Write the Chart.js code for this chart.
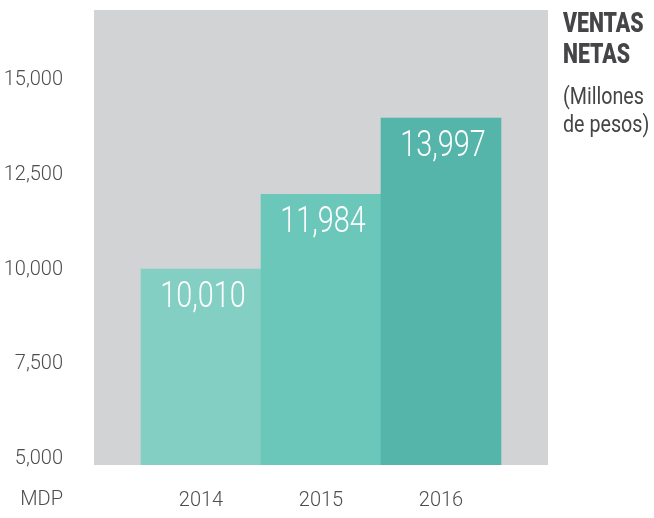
<!DOCTYPE html>
<html>
<head>
<meta charset="utf-8">
<script src="https://cdn.jsdelivr.net/npm/chart.js@4"></script>
<style>
  html, body { margin: 0; padding: 0; background: #fff; }
  #wrap { width: 654px; height: 518px; }
</style>
</head>
<body>
<div id="wrap"><canvas id="myChart" width="654" height="518"></canvas></div>
<script>
const years = [2014, 2015, 2016];
const ventas = [10010, 11984, 13997];
const yTicks = [5000, 7500, 10000, 12500, 15000];
const barColors = ["#84cfc4", "#6cc7bb", "#55b5aa"];
const titleLines = ["VENTAS", "NETAS"];
const subLines = ["(Millones", "de pesos)"];

const grey = "#4d4d4f";
const tickFont = { family: "Roboto", size: 20, weight: 300 };

// text squeezed horizontally to mimic the condensed face of the original
function squeezed(ctx, text, x, y, sx, align) {
  ctx.save();
  ctx.translate(x, y);
  ctx.scale(sx, 1);
  ctx.textAlign = align;
  ctx.fillText(text, 0, 0);
  ctx.restore();
}

// grey panel behind the bars
const panel = {
  id: "panel",
  beforeDraw(chart) {
    const { ctx, chartArea: a } = chart;
    ctx.save();
    ctx.fillStyle = "#d2d3d5";
    ctx.fillRect(a.left, a.top - 2, a.right - a.left, a.bottom - a.top + 2);
    ctx.restore();
  },
};

// white values inside bars, MDP, and the side title
const extras = {
  id: "extras",
  afterDatasetsDraw(chart) {
    const { ctx, chartArea: a } = chart;
    ctx.save();
    ctx.fillStyle = "#fff";
    ctx.font = "300 36px Roboto";
    ctx.textBaseline = "middle";
    chart.getDatasetMeta(0).data.forEach((bar, i) => {
      squeezed(ctx, ventas[i].toLocaleString("en-US"), bar.x + 2, bar.y + 29, 0.8, "center");
    });

    ctx.fillStyle = grey;
    ctx.font = "300 20px Roboto";
    ctx.textAlign = "right";
    ctx.fillText("MDP", 63, 500);

    ctx.textBaseline = "alphabetic";
    ctx.fillStyle = "#454547";
    ctx.font = "900 28px Roboto";
    titleLines.forEach((t, i) => squeezed(ctx, t, a.right + 15, 32 + i * 31, 0.76, "left"));
    ctx.font = "24px Roboto";
    subLines.forEach((t, i) => squeezed(ctx, t, a.right + 15, 104 + i * 28, 0.82, "left"));
    ctx.restore();
  },
};

const data = {
  datasets: [
    {
      data: years.map((y, i) => ({ x: y, y: ventas[i] })),
      backgroundColor: barColors,
      borderWidth: 0,
      barPercentage: 1,
      categoryPercentage: 1,
    },
  ],
};

const config = {
  type: "bar",
  data: data,
  options: {
    responsive: false,
    animation: false,
    layout: { padding: { left: 0, right: 106, top: 0, bottom: 0 } },
    plugins: { legend: { display: false }, tooltip: { enabled: false } },
    scales: {
      x: {
        type: "linear",
        min: 2013.108,
        max: 2016.892,
        offset: false,
        grid: { display: true, drawOnChartArea: false, drawTicks: true, tickLength: 24, color: "rgba(0,0,0,0)" },
        border: { display: false },
        afterBuildTicks: (s) => { s.ticks = years.map((v) => ({ value: v })); },
        afterFit: (s) => { s.height = 53; },
        ticks: {
          color: grey,
          font: tickFont,
          padding: 0,
          callback: (v) => String(v),
        },
      },
      y: {
        min: 4841,
        max: 16800,
        grid: { display: true, drawOnChartArea: false, drawTicks: true, tickLength: 31, color: "rgba(0,0,0,0)" },
        border: { display: false },
        afterBuildTicks: (s) => { s.ticks = yTicks.map((v) => ({ value: v })); },
        afterFit: (s) => { s.width = 94; },
        ticks: {
          color: grey,
          font: tickFont,
          padding: 0,
          callback: (v) => v.toLocaleString("en-US"),
        },
      },
    },
  },
  plugins: [panel, extras],
};

const myChart = new Chart(document.getElementById("myChart"), config);
</script>
</body>
</html>
